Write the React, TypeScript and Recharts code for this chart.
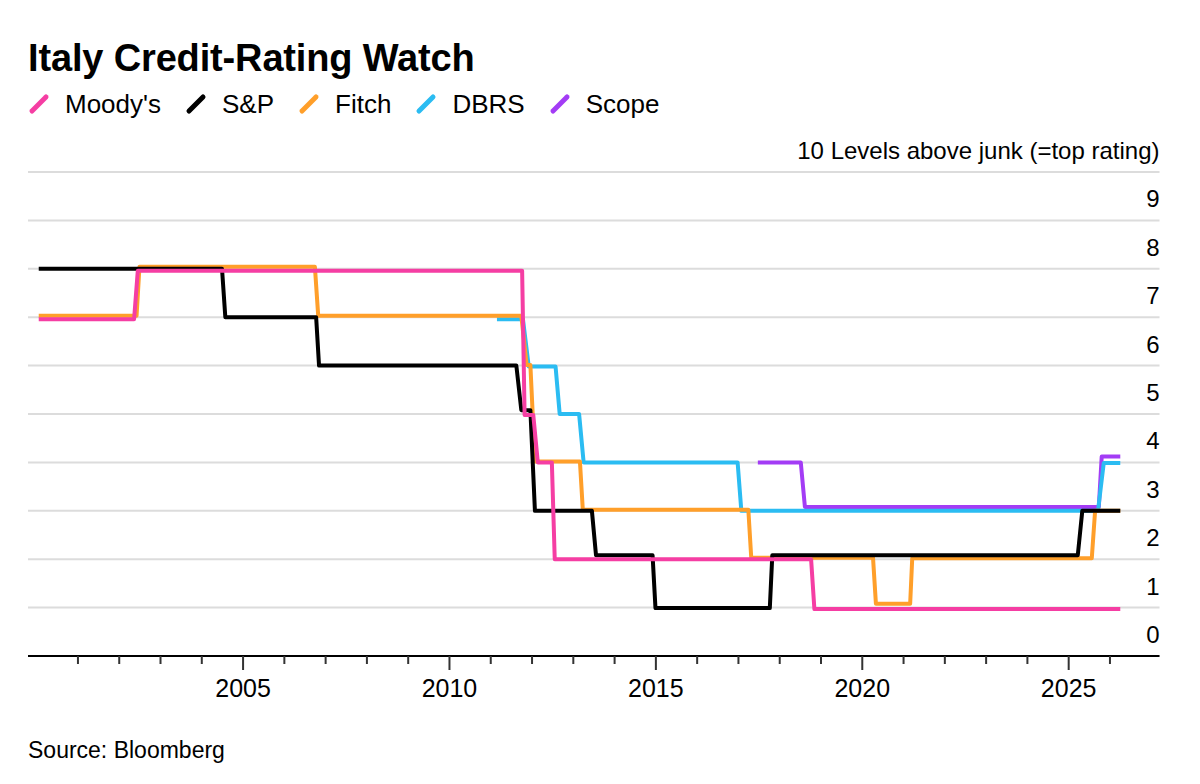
import React from "react";
import { LineChart, Line, XAxis, YAxis, CartesianGrid } from "recharts";

// ---- Data (decimal years, rating levels above junk) ----
const moodysDates = [2000.05, 2002.36, 2002.45, 2011.76, 2011.82, 2012.03, 2012.14, 2012.48, 2012.55, 2018.76, 2018.84, 2026.25];
const moodysLevels = [6.96, 6.96, 7.96, 7.96, 4.98, 4.98, 4.0, 4.0, 2.0, 2.0, 0.97, 0.97];

const spDates = [2000.05, 2004.49, 2004.57, 2006.77, 2006.84, 2011.62, 2011.74, 2011.96, 2012.07, 2013.45, 2013.55, 2014.92, 2014.99, 2017.76, 2017.82, 2025.22, 2025.33, 2026.25];
const spLevels = [8, 8, 7, 7, 6, 6, 5.08, 5.08, 3, 3, 2.08, 2.08, 0.99, 0.99, 2.08, 2.08, 3, 3];

const fitchDates = [2000.05, 2002.42, 2002.49, 2006.74, 2006.82, 2011.74, 2011.87, 2011.96, 2012.07, 2013.16, 2013.23, 2017.24, 2017.31, 2020.26, 2020.33, 2021.16, 2021.21, 2025.56, 2025.64, 2026.25];
const fitchLevels = [7.03, 7.03, 8.04, 8.04, 7.03, 7.03, 6.01, 6.01, 4.02, 4.02, 3.02, 3.02, 2.03, 2.03, 1.08, 1.08, 2.02, 2.02, 3.0, 3.0];

const dbrsDates = [2011.15, 2011.78, 2011.92, 2012.57, 2012.67, 2013.14, 2013.25, 2016.98, 2017.07, 2025.71, 2025.85, 2026.25];
const dbrsLevels = [6.96, 6.96, 5.98, 5.98, 5.0, 5.0, 4.0, 4.0, 3.0, 3.0, 3.99, 3.99];

const scopeDates = [2017.47, 2018.51, 2018.61, 2025.73, 2025.8, 2026.25];
const scopeLevels = [4.0, 4.0, 3.08, 3.08, 4.12, 4.12];

const yearTicks = [2001, 2002, 2003, 2004, 2005, 2006, 2007, 2008, 2009, 2010, 2011, 2012, 2013, 2014, 2015, 2016, 2017, 2018, 2019, 2020, 2021, 2022, 2023, 2024, 2025, 2026];
const levelTicks = [0, 1, 2, 3, 4, 5, 6, 7, 8, 9, 10];
const topLabel = "10 Levels above junk (=top rating)";

const toPoints = (dates: number[], levels: number[]) => dates.map((d, i) => ({ x: d, y: levels[i] }));

const series = [
  { name: "Moody's", color: "#f53ea3", data: toPoints(moodysDates, moodysLevels) },
  { name: "S&P", color: "#000000", data: toPoints(spDates, spLevels) },
  { name: "Fitch", color: "#ff9f2a", data: toPoints(fitchDates, fitchLevels) },
  { name: "DBRS", color: "#2bbcf2", data: toPoints(dbrsDates, dbrsLevels) },
  { name: "Scope", color: "#a33cf5", data: toPoints(scopeDates, scopeLevels) },
];
const drawOrder = ["Scope", "DBRS", "Fitch", "S&P", "Moody's"];

const FONT = '"Liberation Sans", Arial, Helvetica, sans-serif';
const PLOT_RIGHT = 1151.5;

const renderXTick = (props: any) => {
  const { x, y, payload } = props;
  const major = payload.value % 5 === 0;
  return (
    <g key={`xt-${payload.value}`}>
      <line x1={x} x2={x} y1={y} y2={y + (major ? 14 : 8)} stroke="#333" strokeWidth={2} />
      {major && (
        <text x={x} y={y + 41} textAnchor="middle" fontSize={25} fontFamily={FONT} fill="#000">
          {payload.value}
        </text>
      )}
    </g>
  );
};

const renderYTick = (props: any) => {
  const { y, payload } = props;
  const label = payload.value === 10 ? topLabel : String(payload.value);
  return (
    <text key={`yt-${payload.value}`} x={PLOT_RIGHT} y={y - 13} textAnchor="end" fontSize={24} fontFamily={FONT} fill="#000">
      {label}
    </text>
  );
};

const LegendMark = ({ color }: { color: string }) => (
  <svg width={22} height={22} style={{ display: "block" }}>
    <line x1={4} y1={18} x2={18} y2={4} stroke={color} strokeWidth={5} strokeLinecap="round" />
  </svg>
);

export default function App() {
  return (
    <div style={{ position: "relative", width: 1184, height: 768, background: "#fff", fontFamily: FONT }}>
      <div style={{ position: "absolute", left: 20, top: 30, fontSize: 38, lineHeight: "40px", fontWeight: 700, color: "#000", letterSpacing: -0.15 }}>
        Italy Credit-Rating Watch
      </div>
      <div style={{ position: "absolute", left: 20, top: 81, display: "flex", alignItems: "center", height: 30 }}>
        {series.map((s) => (
          <div key={s.name} style={{ display: "flex", alignItems: "center", marginRight: 24 }}>
            <LegendMark color={s.color} />
            <span style={{ marginLeft: 15, fontSize: 26, lineHeight: "30px", color: "#000" }}>{s.name}</span>
          </div>
        ))}
      </div>
      <div style={{ position: "absolute", top: 0, left: 0 }}>
        <LineChart width={1184} height={768} margin={{ top: 164, left: 20, right: 31.5, bottom: 80 }}>
          <CartesianGrid vertical={false} stroke="#dcdcdc" strokeWidth={2} />
          <XAxis
            dataKey="x"
            type="number"
            domain={[1999.79, 2027.2]}
            allowDataOverflow
            ticks={yearTicks}
            interval={0}
            height={40}
            tickSize={0}
            tickMargin={0}
            tickLine={false}
            axisLine={{ stroke: "#000", strokeWidth: 2 }}
            tick={renderXTick}
          />
          <YAxis
            type="number"
            orientation="right"
            domain={[0, 10]}
            ticks={levelTicks}
            interval={0}
            width={1}
            tickSize={0}
            tickMargin={0}
            tickLine={false}
            axisLine={false}
            tick={renderYTick}
          />
          {drawOrder.map((n) => {
            const s = series.find((q) => q.name === n)!;
            return (
              <Line
                key={s.name}
                data={s.data}
                dataKey="y"
                name={s.name}
                type="linear"
                stroke={s.color}
                strokeWidth={4}
                dot={false}
                activeDot={false}
                isAnimationActive={false}
                strokeLinejoin="round"
              />
            );
          })}
        </LineChart>
      </div>
      <div style={{ position: "absolute", left: 20, top: 729, fontSize: 23, lineHeight: "26px", color: "#000" }}>
        Source: Bloomberg
      </div>
    </div>
  );
}
